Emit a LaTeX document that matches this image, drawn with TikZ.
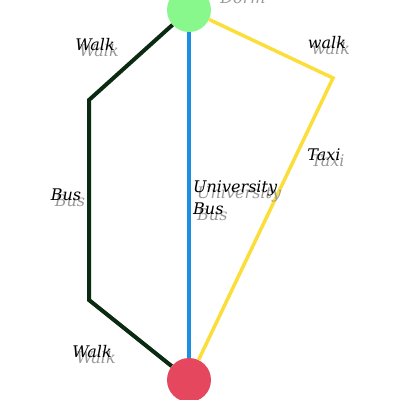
\documentclass[tikz,border=0pt]{standalone}
\usepackage{fontspec}
\setmainfont{DejaVu Serif}
\usetikzlibrary{positioning}
\definecolor{dormgreen}{HTML}{88F88C}
\definecolor{unired}{HTML}{E5475F}
\definecolor{busblue}{HTML}{1C8FE0}
\definecolor{walkgreen}{HTML}{0B2A12}
\definecolor{taxiyellow}{HTML}{FCDE3A}

\begin{document}
\begin{tikzpicture}[
    x=1pt, y=1pt,
    stop/.style={circle, minimum size=44pt, inner sep=0pt},
    route/.style={line width=4pt},
    lbl/.style={font=\fontsize{16}{22}\selectfont\itshape, inner sep=0pt, align=left},
    ghost/.style={lbl, text=black!40}
]
    \useasboundingbox (0,0) rectangle (400,400);
    \clip (0,0) rectangle (400,400);

    \node [stop, fill=dormgreen] (dorm) at (189,390) {};
    \node [stop, fill=unired] (uni) at (189,20) {};

    \coordinate (walktop) at (89,300);
    \coordinate (walkbot) at (89,100);
    \coordinate (taxibend) at (333,322);

    \draw [route, walkgreen] (dorm) -- (walktop) -- (walkbot) -- (uni);
    \draw [route, busblue] (dorm) -- (uni);
    \draw [route, taxiyellow, line width=3.5pt] (dorm) -- (taxibend) -- (uni);

    % shadows first, then the labels
    \node [ghost, anchor=base] (dormshadow) at (243,396) {Dorm};
    \node [ghost] (walkAshadow) at (99,349) {Walk};
    \node [ghost] (walkBshadow) at (331,351) {walk};
    \node [ghost] (busshadow) at (70,199) {Bus};
    \node [ghost, anchor=north west] (unibusshadow) at (197,213) {University\\Bus};
    \node [ghost] (taxishadow) at (328,239) {Taxi};
    \node [ghost] (walkCshadow) at (96,42) {Walk};

    \node [lbl, anchor=base] (dormlbl) at (239,402) {Dorm};
    \node [lbl] (walkA) at (95,355) {Walk};
    \node [lbl] (walkB) at (327,357) {walk};
    \node [lbl] (bus) at (66,205) {Bus};
    \node [lbl, anchor=north west] (unibus) at (193,219) {University\\Bus};
    \node [lbl] (taxi) at (324,245) {Taxi};
    \node [lbl] (walkC) at (92,48) {Walk};

\end{tikzpicture}
\end{document}
